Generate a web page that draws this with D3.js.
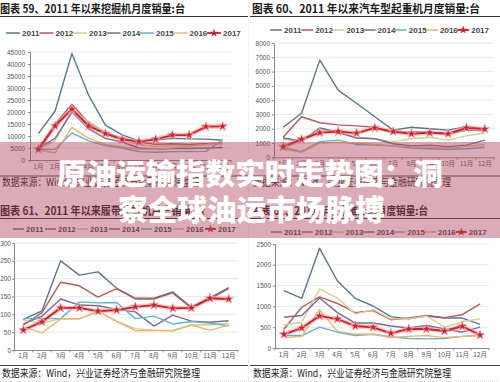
<!DOCTYPE html>
<html><head><meta charset="utf-8">
<script src="https://cdn.jsdelivr.net/npm/d3@7"></script>
<style>
html,body{margin:0;padding:0;background:#fff;}
svg{display:block;}
</style></head>
<body>
<script>
// ---------- DATA ----------
const months = ["1月","2月","3月","4月","5月","6月","7月","8月","9月","10月","11月","12月"];
const years = ["2011","2012","2013","2014","2015","2016","2017"];

// 图表59 挖掘机 (series order = years)
const excavatorSales = [
  [11000,20400,44400,27000,14500,10500,8000,8300,9000,8800,8700,8200],
  [4500,15000,23200,15500,11500,9000,7500,6500,6800,6500,6800,7200],
  [4500,8000,20500,16000,11500,8500,6500,5500,6000,6000,6200,6500],
  [5000,9000,20000,13000,9000,7500,5000,4500,4800,4800,5000,5200],
  [4200,4500,11300,8000,6000,5000,3500,3200,3500,3500,3600,8500],
  [4000,3000,13600,9000,6500,5500,4500,4500,5000,5800,6500,7500],
  [4450,14200,21200,14200,11000,8600,7700,8600,10400,10400,13900,14000]
];
const excavatorTicks = [0,5000,10000,15000,20000,25000,30000,35000,40000,45000];

// 图表60 汽车起重机
const truckCraneSales = [
  [2100,3080,6800,4700,3780,2840,1900,2100,2000,1900,2150,2000],
  [1400,2840,2420,2270,2200,2100,1700,1800,1750,1650,1900,1850],
  [1250,1100,2000,1700,1400,1300,1100,1300,1400,1200,1500,1700],
  [1350,1150,2050,1750,1350,1300,950,800,850,750,850,1200],
  [700,400,1100,1200,900,850,800,650,600,550,600,700],
  [600,350,1000,1050,1000,900,800,750,700,650,750,900],
  [740,1260,1720,1800,1690,2060,1800,1650,1720,1650,2060,1970]
];
const truckCraneTicks = [0,1000,2000,3000,4000,5000,6000,7000,8000];

// 图表61 履带起重机
const crawlerCraneSales = [
  [86,110,250,210,219,173,145,145,163,120,146,175],
  [70,105,190,180,148,172,143,143,160,118,143,172],
  [83,75,88,88,108,80,60,55,55,70,70,75],
  [73,95,143,126,124,114,107,67,98,81,78,82],
  [88,88,88,135,132,133,88,95,73,80,75,68],
  [65,48,87,87,108,80,54,55,53,70,55,70],
  [56,79,118,118,109,112,121,126,117,118,145,143]
];
const crawlerCraneTicks = [0,50,100,150,200,250,300];

// 图表62
const dozerSales = [
  [1378,1195,2396,1610,1195,1010,753,700,770,720,720,570],
  [450,980,1230,1070,850,900,680,720,780,730,800,1060],
  [560,620,1420,1200,820,920,700,700,770,500,630,700],
  [740,780,1200,850,600,600,530,480,540,460,380,500],
  [300,300,500,380,300,330,270,230,220,230,280,300],
  [250,280,920,400,330,330,250,280,300,250,280,300],
  [329,480,770,697,529,497,353,457,457,409,522,313]
];
const dozerTicks = [0,500,1000,1500,2000,2500];

const titles = [
  "图表 59、2011 年以来挖掘机月度销量:台",
  "图表 60、2011 年以来汽车型起重机月度销量:台",
  "图表 61、2011 年以来履带起重机月度销量:台",
  "图表 62、2011 年以来推土机月度销量:台"
];
const sourceText = "数据来源：Wind，兴业证券经济与金融研究院整理";
const bannerLines = ["原油运输指数实时走势图：洞","察全球油运市场脉搏"];

// ---------- STYLE / LAYOUT ----------
const colors = ["#5b7592","#b9585c","#cfcf96","#7d6a92","#62b4ca","#f2b272","#c4242c"];
const CJK = "'Noto Sans CJK SC', sans-serif";
const LAT = "'Liberation Sans', Arial, sans-serif";

const panels = [
  {data:excavatorSales, ticks:excavatorTicks, title:titles[0],
   px0:0, tX:0, tY:13, tW:185, lineY:16.5, lineX0:0, lineX1:248,
   ax0:30, ax1:231, y0:160, y1:52, labX:25,
   legY:33, legX:6, legStep:33.5, legLen:14,
   xlabY:169, srcY:186, srcX:2, srcLineY:176},
  {data:truckCraneSales, ticks:truckCraneTicks, title:titles[1],
   tX:252, tY:13, tW:228, lineY:16.5, lineX0:250, lineX1:500,
   ax0:274, ax1:494, y0:157.3, y1:43, labX:270,
   legY:30, legX:270, legStep:31.2, legLen:12,
   xlabY:166, srcY:186, srcX:253, srcLineY:176},
  {data:crawlerCraneSales, ticks:crawlerCraneTicks, title:titles[2],
   tX:0, tY:215, tW:205, lineY:218.5, lineX0:0, lineX1:248,
   ax0:14, ax1:238, y0:350, y1:243, labX:11,
   legY:229, legX:13, legStep:32, legLen:11,
   xlabY:358, srcY:377, srcX:2, srcLineY:365.5},
  {data:dozerSales, ticks:dozerTicks, title:titles[3],
   tX:252, tY:215, tW:176, lineY:218.5, lineX0:250, lineX1:500,
   ax0:275, ax1:489, y0:348, y1:244, labX:271,
   legY:232, legX:271, legStep:30.8, legLen:11,
   xlabY:357, srcY:377, srcX:253, srcLineY:365.5}
];

const svg = d3.select("body").append("svg").attr("width",500).attr("height",382);
svg.append("rect").attr("width",500).attr("height",382).attr("fill","#fff");

// vertical separator
svg.append("line").attr("x1",248.5).attr("x2",248.5).attr("y1",0).attr("y2",382)
  .attr("stroke","#e4e4e4").attr("stroke-width",1).attr("stroke-dasharray","1,1");

panels.forEach(p=>{
  const g = svg.append("g");
  // title
  g.append("text").attr("x",p.tX).attr("y",p.tY).text(p.title)
    .attr("font-family",CJK).attr("font-weight",700).attr("font-size",11.5)
    .attr("fill","#1a1a1a").attr("textLength",p.tW).attr("lengthAdjust","spacingAndGlyphs");
  g.append("line").attr("x1",p.lineX0).attr("x2",p.lineX1).attr("y1",p.lineY).attr("y2",p.lineY)
    .attr("stroke","#333").attr("stroke-width",1.2);

  const x = d3.scaleBand().domain(months).range([p.ax0,p.ax1]);
  const maxT = p.ticks[p.ticks.length-1];
  const y = d3.scaleLinear().domain([0,maxT]).range([p.y0,p.y1]);

  // gridlines
  g.selectAll(".grid").data(p.ticks.slice(1)).join("line")
    .attr("x1",p.ax0).attr("x2",p.ax1)
    .attr("y1",d=>y(d)).attr("y2",d=>y(d))
    .attr("stroke","#e3e3e3").attr("stroke-width",0.8);

  // y axis
  const ya = g.append("g").attr("transform",`translate(${p.ax0},0)`)
    .call(d3.axisLeft(y).tickValues(p.ticks).tickSize(2).tickPadding(p.ax0-p.labX-2).tickFormat(d3.format("d")));
  ya.select(".domain").attr("stroke","#888");
  ya.selectAll(".tick line").attr("stroke","#888");
  ya.selectAll("text").attr("font-family",LAT).attr("font-size",6.5).attr("fill","#555");

  // x axis
  const xa = g.append("g").attr("transform",`translate(0,${p.y0})`)
    .call(d3.axisBottom(x).tickSize(0).tickPadding(p.xlabY-p.y0-5));
  xa.select(".domain").attr("stroke","#888");
  xa.selectAll("text").attr("font-family",CJK).attr("font-size",6.5).attr("fill","#555");
  // category boundary ticks
  g.selectAll(".xt").data(d3.range(13)).join("line")
    .attr("x1",i=>p.ax0+i*x.step()).attr("x2",i=>p.ax0+i*x.step())
    .attr("y1",p.y0).attr("y2",p.y0+2.5).attr("stroke","#888").attr("stroke-width",0.8);

  const line = d3.line().x((d,i)=>x(months[i])+x.bandwidth()/2).y(d=>y(d));

  // series 2011-2016
  p.data.forEach((s,k)=>{
    if(k===6) return;
    g.append("path").datum(s).attr("d",line).attr("fill","none")
      .attr("stroke",colors[k]).attr("stroke-width",1.4).attr("stroke-linejoin","round");
  });
  // 2017 with glow and markers
  const s17 = p.data[6];
  g.append("path").datum(s17).attr("d",line).attr("fill","none")
    .attr("stroke","#f0a0a4").attr("stroke-opacity",0.6).attr("stroke-width",4.5);
  g.append("path").datum(s17).attr("d",line).attr("fill","none")
    .attr("stroke",colors[6]).attr("stroke-width",1.8);
  g.selectAll(".m").data(s17).join("path")
    .attr("transform",(d,i)=>`translate(${x(months[i])+x.bandwidth()/2},${y(d)})`)
    .attr("d",d3.symbol().type(d3.symbolStar).size(28))
    .attr("fill",colors[6]).attr("stroke","#f3a7aa").attr("stroke-width",0.8);

  // legend
  years.forEach((yr,k)=>{
    const lx = p.legX + k*p.legStep;
    g.append("line").attr("x1",lx).attr("x2",lx+p.legLen).attr("y1",p.legY).attr("y2",p.legY)
      .attr("stroke",colors[k]).attr("stroke-width",k===6?1.8:1.5);
    if(k===6){
      g.append("path").attr("transform",`translate(${lx+p.legLen/2},${p.legY})`)
        .attr("d",d3.symbol().type(d3.symbolStar).size(22)).attr("fill",colors[6]);
    }
    g.append("text").attr("x",lx+p.legLen+2).attr("y",p.legY+3).text(yr)
      .attr("font-family",LAT).attr("font-weight",700).attr("font-size",8).attr("fill","#444");
  });

  // source
  g.append("line").attr("x1",p.lineX0).attr("x2",p.lineX1).attr("y1",p.srcLineY).attr("y2",p.srcLineY)
    .attr("stroke","#444").attr("stroke-width",1);
  g.append("text").attr("x",p.srcX).attr("y",p.srcY).text(sourceText)
    .attr("font-family",CJK).attr("font-size",10).attr("fill","#222")
    .attr("textLength",198).attr("lengthAdjust","spacingAndGlyphs");
});

// bottom dotted line
svg.append("line").attr("x1",0).attr("x2",500).attr("y1",381.5).attr("y2",381.5)
  .attr("stroke","#ddd").attr("stroke-dasharray","1,1");

// banner overlay
svg.append("rect").attr("x",0).attr("y",142).attr("width",500).attr("height",96)
  .attr("fill","#b0455f").attr("fill-opacity",0.45);
svg.append("text").attr("x",57).attr("y",185).text(bannerLines[0])
  .attr("font-family",CJK).attr("font-weight",900).attr("font-size",29).attr("fill","#fff")
  .attr("textLength",386).attr("lengthAdjust","spacingAndGlyphs");
svg.append("text").attr("x",118).attr("y",221).text(bannerLines[1])
  .attr("font-family",CJK).attr("font-weight",900).attr("font-size",29).attr("fill","#fff")
  .attr("textLength",267).attr("lengthAdjust","spacingAndGlyphs");
</script>
</body></html>
